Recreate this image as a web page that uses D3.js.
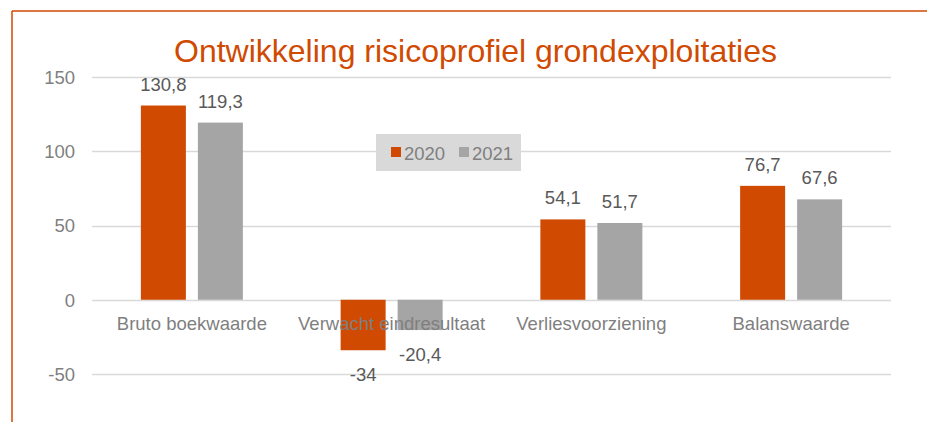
<!DOCTYPE html>
<html>
<head>
<meta charset="utf-8">
<script src="https://cdn.jsdelivr.net/npm/d3@7"></script>
<style>
  html, body { margin: 0; padding: 0; background: #fff; }
  svg { display: block; font-family: "Liberation Sans", Arial, sans-serif; }
</style>
</head>
<body>
<svg id="chart" width="927" height="422"></svg>
<script>
// Chart data
const categories = ["Bruto boekwaarde", "Verwacht eindresultaat", "Verliesvoorziening", "Balanswaarde"];
const seriesNames = ["2020", "2021"];
const values2020 = [130.8, -34, 54.1, 76.7];
const values2021 = [119.3, -20.4, 51.7, 67.6];
const yTicks = [-50, 0, 50, 100, 150];
const titleText = "Ontwikkeling risicoprofiel grondexploitaties";

const colors = { "2020": "#D04A02", "2021": "#A5A5A5" };
const seriesValues = { "2020": values2020, "2021": values2021 };

const svg = d3.select("#chart");

// Frame lines (top and left)
svg.append("line").attr("x1", 12).attr("x2", 927).attr("y1", 11).attr("y2", 11)
  .attr("stroke", "#D04A02").attr("stroke-width", 1.5);
svg.append("line").attr("x1", 12).attr("x2", 12).attr("y1", 11).attr("y2", 422)
  .attr("stroke", "#D04A02").attr("stroke-width", 1.5);

const plot = { left: 92, right: 891, top: 77, bottom: 374 };

const y = d3.scaleLinear().domain([-50, 150]).range([plot.bottom, plot.top]);
const x0 = d3.scaleBand().domain(categories).range([plot.left, plot.right]);
const groupWidth = 102;
const x1 = d3.scaleBand().domain(seriesNames)
  .range([0, groupWidth]).paddingInner(12 / 57).paddingOuter(0);

// Gridlines
svg.append("g").selectAll("line").data(yTicks).join("line")
  .attr("x1", plot.left).attr("x2", plot.right)
  .attr("y1", d => Math.round(y(d)) + 0.5).attr("y2", d => Math.round(y(d)) + 0.5)
  .attr("stroke", "#D9D9D9").attr("stroke-width", 1.3);

// Y axis labels (plain hyphen for negatives)
const yAxis = d3.axisLeft(y).tickValues(yTicks).tickSize(0).tickPadding(0)
  .tickFormat(d => String(d));
const yg = svg.append("g").attr("transform", "translate(75,0)").call(yAxis);
yg.select(".domain").remove();
yg.selectAll("text").attr("fill", "#7F7F7F").attr("font-size", "18.5px")
  .attr("font-family", "'Liberation Sans', Arial, sans-serif").attr("dy", "0.35em");

// Bars
const barData = [];
categories.forEach((c, i) => {
  seriesNames.forEach(s => barData.push({ cat: c, series: s, value: seriesValues[s][i] }));
});
const groupOffset = (x0.bandwidth() - groupWidth) / 2;
const bx = d => x0(d.cat) + groupOffset + x1(d.series);

svg.append("g").selectAll("rect").data(barData).join("rect")
  .attr("x", bx)
  .attr("width", x1.bandwidth())
  .attr("y", d => Math.min(y(d.value), y(0)))
  .attr("height", d => Math.abs(y(d.value) - y(0)))
  .attr("fill", d => colors[d.series]);

// Category labels
svg.append("g").selectAll("text").data(categories).join("text")
  .attr("x", d => x0(d) + x0.bandwidth() / 2)
  .attr("y", 330)
  .attr("text-anchor", "middle")
  .attr("font-size", "18.5px")
  .attr("fill", "#7F7F7F")
  .text(d => d);

// Value labels
const fmt = v => String(v).replace(".", ",");
svg.append("g").selectAll("text").data(barData).join("text")
  .attr("x", d => bx(d) + x1.bandwidth() / 2)
  .attr("y", d => d.value >= 0 ? y(d.value) - 15 : y(d.value) + 31)
  .attr("text-anchor", "middle")
  .attr("font-size", "18.5px")
  .attr("fill", "#595959")
  .text(d => fmt(d.value));

// Title
svg.append("text")
  .attr("x", (175 + 776) / 2).attr("y", 62)
  .attr("text-anchor", "middle")
  .attr("font-size", "32px")
  .attr("fill", "#D04A02")
  .text(titleText);

// Legend
const legend = svg.append("g").attr("transform", "translate(376,134)");
legend.append("rect").attr("width", 145).attr("height", 37).attr("fill", "#D9D9D9");
const legendItems = legend.selectAll("g").data(seriesNames).join("g")
  .attr("transform", (d, i) => `translate(${15 + i * 68},0)`);
legendItems.append("rect").attr("y", 13).attr("width", 10).attr("height", 10)
  .attr("fill", d => colors[d]);
legendItems.append("text").attr("x", 13).attr("y", 25.5)
  .attr("font-size", "18.5px").attr("fill", "#7F7F7F").text(d => d);
</script>
</body>
</html>
